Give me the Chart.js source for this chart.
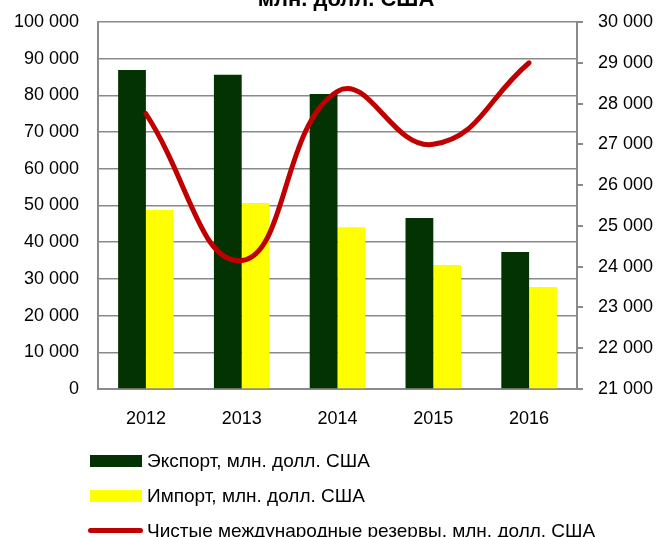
<!DOCTYPE html>
<html>
<head>
<meta charset="utf-8">
<script src="https://cdn.jsdelivr.net/npm/chart.js@4.4.0/dist/chart.umd.min.js"></script>
<style>
  html, body { margin: 0; padding: 0; background: #fff; }
  #wrap { position: relative; width: 660px; height: 537px; overflow: hidden; font-family: "Liberation Sans", Arial, sans-serif; }
  #title { position: absolute; left: 0; width: 692px; top: -14px; text-align: center; font-weight: bold; font-size: 22px; line-height: 26px; color: #000; }
  #legend { position: absolute; left: 0; top: 443px; }
  .item { position: relative; height: 35px; font-size: 19px; line-height: 35px; color: #000; padding-left: 147px; white-space: nowrap; }
  .swatch { position: absolute; left: 90px; top: 12px; width: 52px; height: 12px; }
  .line { position: absolute; left: 88px; top: 15px; width: 55px; height: 5px; border-radius: 3px; }
</style>
</head>
<body>
<div id="wrap">
  <canvas id="chart" width="660" height="537"></canvas>
  <div id="title">млн. долл. США</div>
  <div id="legend"></div>
</div>
<script>
// data
const years = ['2012', '2013', '2014', '2015', '2016'];
const exportVals = [86900, 85600, 80400, 46600, 37300];
const importVals = [48800, 50700, 44100, 33800, 27800];
const reserveVals = [27750, 24150, 28300, 27000, 29000];

const gridColor = '#8a8a8a';
const tickFont = { family: 'Liberation Sans', size: 18 };
const fmt = v => v.toLocaleString('ru-RU').replace(/\s/g, ' ');

// fixed axis sizes so the plot area sits where the original one does
const fixWidth = w => s => {
  s.width = w;
  s.paddingTop = 0;
  s.paddingBottom = 0;
};

const data = {
  labels: years,
  datasets: [
    {
      type: 'line',
      label: 'Чистые международные резервы, млн. долл. США',
      data: reserveVals,
      yAxisID: 'y1',
      borderColor: '#c00000',
      borderWidth: 5,
      borderCapStyle: 'round',
      pointRadius: 0,
      tension: 0.45,
      order: 0
    },
    {
      label: 'Экспорт, млн. долл. США',
      data: exportVals,
      backgroundColor: '#033303',
      yAxisID: 'y',
      barPercentage: 1,
      categoryPercentage: 0.58,
      order: 1
    },
    {
      label: 'Импорт, млн. долл. США',
      data: importVals,
      backgroundColor: '#ffff00',
      yAxisID: 'y',
      barPercentage: 1,
      categoryPercentage: 0.58,
      order: 1
    }
  ]
};

const config = {
  type: 'bar',
  data: data,
  options: {
    responsive: false,
    animation: false,
    layout: { padding: { top: 22, bottom: 103, left: 0, right: 0 } },
    plugins: {
      legend: { display: false },
      tooltip: { enabled: false }
    },
    scales: {
      x: {
        grid: { display: false },
        border: { color: gridColor, width: 2 },
        ticks: { color: '#000', font: tickFont, padding: 11 },
        afterFit: s => { s.height = 45; }
      },
      y: {
        position: 'left',
        min: 0,
        max: 100000,
        ticks: { stepSize: 10000, color: '#000', font: tickFont, padding: 19, callback: v => fmt(v) },
        grid: { color: gridColor, lineWidth: 1.5, drawTicks: false },
        border: { color: gridColor, width: 2 },
        afterFit: fixWidth(98)
      },
      y1: {
        position: 'right',
        min: 21000,
        max: 30000,
        ticks: { stepSize: 1000, color: '#000', font: tickFont, padding: 15, callback: v => fmt(v) },
        grid: { drawOnChartArea: false, drawTicks: true, tickLength: 6, color: gridColor, lineWidth: 2 },
        border: { color: gridColor, width: 2 },
        afterFit: fixWidth(83)
      }
    }
  }
};

const chart = new Chart(document.getElementById('chart'), config);

// html legend built from the datasets, stacked like the original
const legendEl = document.getElementById('legend');
[1, 2, 0].forEach(i => {
  const ds = chart.data.datasets[i];
  const row = document.createElement('div');
  row.className = 'item';
  const mark = document.createElement('span');
  if (ds.type === 'line') {
    mark.className = 'line';
    mark.style.background = ds.borderColor;
  } else {
    mark.className = 'swatch';
    mark.style.background = ds.backgroundColor;
  }
  row.appendChild(mark);
  row.appendChild(document.createTextNode(ds.label));
  legendEl.appendChild(row);
});
</script>
</body>
</html>
